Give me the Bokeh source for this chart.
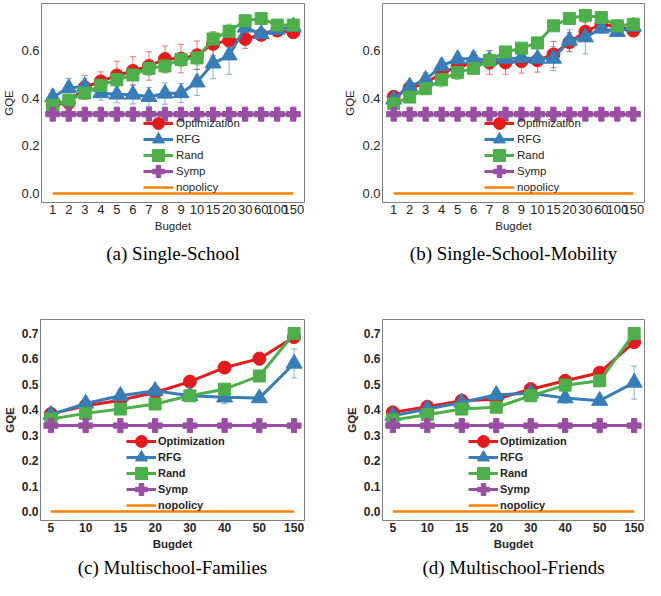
from bokeh.plotting import figure
from bokeh.models import (Range1d, FixedTicker, Legend, LegendItem, Whisker,
                          ColumnDataSource, TeeHead, PrintfTickFormatter)
from bokeh.layouts import column, row
from bokeh.embed import file_html
from bokeh.resources import INLINE

# ---------------- data ----------------
budgets_single = ["1", "2", "3", "4", "5", "6", "7", "8", "9", "10", "15", "20", "30", "60", "100", "150"]
budgets_multi = ["5", "10", "15", "20", "30", "40", "50", "150"]
series_names = ["Optimization", "RFG", "Rand", "Symp", "nopolicy"]

# (a) Single-School
a_opt = [0.372, 0.382, 0.447, 0.472, 0.497, 0.516, 0.537, 0.566, 0.568, 0.582, 0.630, 0.644, 0.651, 0.668, 0.686, 0.679]
a_opt_err = [0.01, 0.02, 0.05, 0.04, 0.06, 0.06, 0.06, 0.055, 0.06, 0.06, 0.05, 0.03, 0.04, 0.02, 0.01, 0.01]
a_rfg = [0.406, 0.444, 0.451, 0.423, 0.417, 0.417, 0.407, 0.421, 0.423, 0.468, 0.548, 0.582, 0.699, 0.672, 0.690, 0.703]
a_rfg_err = [0.03, 0.04, 0.035, 0.03, 0.035, 0.04, 0.04, 0.045, 0.04, 0.055, 0.065, 0.08, 0.015, 0.02, 0.01, 0.01]
a_rand = [0.372, 0.393, 0.423, 0.455, 0.479, 0.499, 0.527, 0.537, 0.564, 0.571, 0.651, 0.683, 0.727, 0.737, 0.709, 0.709]
a_rand_err = [0.01, 0.02, 0.02, 0.02, 0.02, 0.02, 0.03, 0.03, 0.03, 0.03, 0.03, 0.03, 0.025, 0.01, 0.01, 0.01]
a_symp = [0.334] * 16
a_nopolicy = [0.0] * 16

# (b) Single-School-Mobility
b_opt = [0.407, 0.444, 0.465, 0.506, 0.534, 0.548, 0.552, 0.552, 0.557, 0.561, 0.585, 0.637, 0.681, 0.713, 0.703, 0.686]
b_opt_err = [0.01, 0.01, 0.02, 0.02, 0.02, 0.02, 0.05, 0.05, 0.05, 0.05, 0.055, 0.04, 0.04, 0.01, 0.01, 0.01]
b_rfg = [0.396, 0.451, 0.479, 0.537, 0.566, 0.568, 0.561, 0.568, 0.571, 0.568, 0.568, 0.644, 0.658, 0.695, 0.681, 0.703]
b_rfg_err = [0.02, 0.02, 0.03, 0.03, 0.025, 0.03, 0.04, 0.02, 0.02, 0.02, 0.05, 0.045, 0.07, 0.02, 0.01, 0.01]
b_rand = [0.378, 0.406, 0.441, 0.479, 0.510, 0.527, 0.561, 0.596, 0.612, 0.634, 0.706, 0.737, 0.750, 0.741, 0.706, 0.713]
b_rand_err = [0.01, 0.02, 0.02, 0.03, 0.03, 0.02, 0.02, 0.02, 0.02, 0.02, 0.01, 0.01, 0.01, 0.01, 0.01, 0.01]
b_symp = [0.334] * 16
b_nopolicy = [0.0] * 16

# (c) Multischool-Families
c_opt = [0.384, 0.416, 0.438, 0.468, 0.511, 0.566, 0.601, 0.686]
c_opt_err = [0.01, 0.01, 0.01, 0.015, 0.02, 0.02, 0.025, 0.02]
c_rfg = [0.381, 0.425, 0.455, 0.475, 0.455, 0.449, 0.446, 0.582]
c_rfg_err = [0.01, 0.015, 0.025, 0.02, 0.01, 0.025, 0.015, 0.057]
c_rand = [0.364, 0.386, 0.403, 0.423, 0.455, 0.481, 0.533, 0.700]
c_rand_err = [0.01, 0.01, 0.01, 0.02, 0.01, 0.01, 0.01, 0.01]
c_symp = [0.338] * 8
c_nopolicy = [0.0] * 8

# (d) Multischool-Friends
d_opt = [0.390, 0.412, 0.436, 0.442, 0.481, 0.514, 0.546, 0.666]
d_opt_err = [0.01, 0.01, 0.01, 0.01, 0.025, 0.015, 0.01, 0.01]
d_rfg = [0.377, 0.403, 0.429, 0.459, 0.465, 0.446, 0.436, 0.507]
d_rfg_err = [0.01, 0.01, 0.01, 0.015, 0.01, 0.02, 0.01, 0.065]
d_rand = [0.360, 0.381, 0.403, 0.410, 0.455, 0.497, 0.514, 0.700]
d_rand_err = [0.01, 0.01, 0.01, 0.01, 0.02, 0.01, 0.01, 0.01]
d_symp = [0.338] * 8
d_nopolicy = [0.0] * 8

yticks_single = [0.0, 0.2, 0.4, 0.6]
yticks_multi = [0.0, 0.1, 0.2, 0.3, 0.4, 0.5, 0.6, 0.7]

RED, BLUE, GREEN, PURPLE, ORANGE = "#e41a1c", "#377eb8", "#4daf4a", "#984ea3", "#ff7f00"
FONT = "Liberation Sans"
TXT = "#262626"


def panel(caption, cats, opt, opt_err, rfg, rfg_err, rand, rand_err, symp, nopol,
          yr, yticks, xpad, bold, tick_size, leg_size, leg_x, leg_y, leg_std,
          width, height, bl, br, bt, bb, cap_standoff):
    x = list(range(len(cats)))
    p = figure(width=width, height=height, output_backend="svg", toolbar_location=None,
               x_range=Range1d(-xpad, len(cats) - 1 + xpad), y_range=Range1d(*yr),
               title=caption, title_location="below",
               min_border_left=bl, min_border_right=br, min_border_top=bt, min_border_bottom=bb)
    p.title.align = "center"
    p.title.text_font = "Liberation Serif"
    p.title.text_font_size = "19px"
    p.title.text_font_style = "normal"
    p.title.text_color = "black"
    p.title.standoff = cap_standoff
    p.xgrid.visible = False
    p.ygrid.visible = False
    p.outline_line_color = "#7f7f7f"
    p.outline_line_width = 1
    p.background_fill_color = "white"
    p.border_fill_color = "white"

    style = "bold" if bold else "normal"
    p.xaxis.ticker = FixedTicker(ticks=x)
    p.xaxis.major_label_overrides = {i: c for i, c in enumerate(cats)}
    p.yaxis.ticker = FixedTicker(ticks=yticks)
    p.yaxis.formatter = PrintfTickFormatter(format="%.1f")
    p.xaxis.axis_label = "Bugdet"
    p.yaxis.axis_label = "GQE"
    for ax in (p.xaxis, p.yaxis):
        ax.axis_line_color = None
        ax.major_tick_line_color = None
        ax.minor_tick_line_color = None
        ax.major_tick_out = 0
        ax.major_tick_in = 0
        ax.major_label_text_font = FONT
        ax.major_label_text_font_size = tick_size
        ax.major_label_text_font_style = style
        ax.major_label_text_color = TXT
        ax.axis_label_text_font = FONT
        ax.axis_label_text_font_size = "11.5px"
        ax.axis_label_text_font_style = style
        ax.axis_label_text_color = TXT
        ax.major_label_standoff = 2
        ax.axis_label_standoff = 3

    items = []
    specs = [(series_names[0], opt, opt_err, RED, "circle", 13),
             (series_names[1], rfg, rfg_err, BLUE, "triangle", 16),
             (series_names[2], rand, rand_err, GREEN, "square", 12)]
    for name, vals, errs, color, marker, size in specs:
        src = ColumnDataSource(dict(x=x, y=vals,
                                    lo=[v - e for v, e in zip(vals, errs)],
                                    hi=[v + e for v, e in zip(vals, errs)]))
        w = Whisker(source=src, base="x", upper="hi", lower="lo",
                    line_color=color, line_alpha=0.6, line_width=1, level="underlay",
                    upper_head=TeeHead(size=6, line_color=color, line_alpha=0.6, line_width=1),
                    lower_head=TeeHead(size=6, line_color=color, line_alpha=0.6, line_width=1))
        p.add_layout(w)
        ln = p.line("x", "y", source=src, line_color=color, line_width=3)
        sc = p.scatter("x", "y", source=src, marker=marker, size=size,
                       fill_color=color, line_color=color)
        items.append(LegendItem(label=name, renderers=[ln, sc]))

    src_s = ColumnDataSource(dict(x=x, y=symp))
    ln = p.line("x", "y", source=src_s, line_color=PURPLE, line_width=3)
    sc = p.scatter("x", "y", source=src_s, marker="plus", size=14,
                   fill_color=PURPLE, line_color=PURPLE)
    items.append(LegendItem(label=series_names[3], renderers=[ln, sc]))

    src_n = ColumnDataSource(dict(x=x, y=nopol))
    ln = p.line("x", "y", source=src_n, line_color=ORANGE, line_width=2.5)
    items.append(LegendItem(label=series_names[4], renderers=[ln]))

    # two interleaved legends so that the legend markers can be large
    common = dict(background_fill_alpha=0, border_line_alpha=0,
                  glyph_width=30, glyph_height=32, label_height=32, spacing=0,
                  padding=0, margin=0, label_standoff=leg_std,
                  label_text_font=FONT, label_text_font_size=leg_size,
                  label_text_font_style=style, label_text_color=TXT)
    leg1 = Legend(items=[items[0], items[2], items[4]], location=(leg_x, leg_y), **common)
    leg2 = Legend(items=[items[1], items[3]], location=(leg_x, leg_y + 16), **common)
    p.add_layout(leg1)
    p.add_layout(leg2)
    return p


pa = panel("(a) Single-School", budgets_single, a_opt, a_opt_err, a_rfg, a_rfg_err,
           a_rand, a_rand_err, a_symp, a_nopolicy, (-0.038, 0.80), yticks_single, 0.7,
           False, "13px", "11.5px", 102, -1, 3, 322, 308, 36, 18, 3, 106, 12)
pb = panel("(b) Single-School-Mobility", budgets_single, b_opt, b_opt_err, b_rfg, b_rfg_err,
           b_rand, b_rand_err, b_symp, b_nopolicy, (-0.038, 0.80), yticks_single, 0.7,
           False, "13px", "11.5px", 102, -1, 3, 323, 308, 60, 1, 3, 106, 12)
pc = panel("(c) Multischool-Families", budgets_multi, c_opt, c_opt_err, c_rfg, c_rfg_err,
           c_rand, c_rand_err, c_symp, c_nopolicy, (-0.035, 0.755), yticks_multi, 0.3,
           True, "12px", "11px", 86, -1, 2, 322, 272, 36, 18, 11, 60, 5)
pd_ = panel("(d) Multischool-Friends", budgets_multi, d_opt, d_opt_err, d_rfg, d_rfg_err,
            d_rand, d_rand_err, d_symp, d_nopolicy, (-0.035, 0.755), yticks_multi, 0.3,
            True, "12px", "11px", 86, -1, 2, 323, 272, 60, 1, 11, 60, 5)

layout = column(row(pa, pb), row(pc, pd_))
open("out.html", "w").write(file_html(layout, INLINE))
